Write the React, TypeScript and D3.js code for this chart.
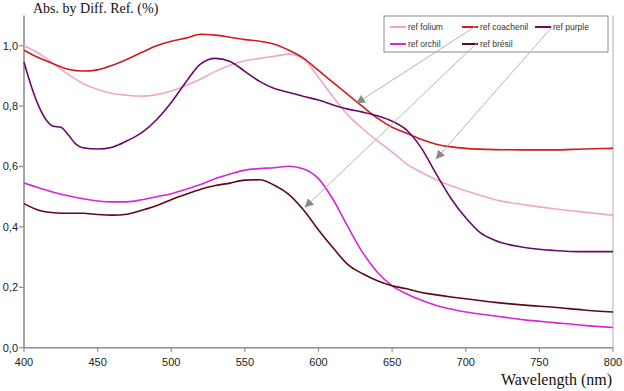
import React from 'react';
import * as d3 from 'd3';

// shared wavelength grid (nm)
const wavelengths = [400, 410, 420, 430, 440, 450, 460, 470, 480, 490, 500, 510, 520, 530, 540, 550, 560, 570, 580, 590, 600, 610, 620, 630, 640, 650, 660, 670, 680, 690, 700, 720, 740, 760, 780, 800];

const folium = [1.0, 0.975, 0.94, 0.905, 0.875, 0.855, 0.842, 0.836, 0.833, 0.838, 0.85, 0.868, 0.89, 0.915, 0.935, 0.95, 0.958, 0.965, 0.972, 0.955, 0.895, 0.83, 0.77, 0.725, 0.685, 0.648, 0.608, 0.58, 0.556, 0.536, 0.52, 0.49, 0.473, 0.46, 0.449, 0.439];
const coachenil = [0.985, 0.96, 0.94, 0.922, 0.916, 0.92, 0.935, 0.955, 0.978, 1.0, 1.015, 1.025, 1.038, 1.035, 1.028, 1.02, 1.015, 1.005, 0.985, 0.958, 0.918, 0.878, 0.838, 0.798, 0.76, 0.73, 0.71, 0.689, 0.674, 0.665, 0.66, 0.656, 0.655, 0.655, 0.658, 0.66];
const orchil = [0.545, 0.53, 0.515, 0.503, 0.493, 0.486, 0.483, 0.483, 0.49, 0.5, 0.51, 0.525, 0.54, 0.56, 0.575, 0.588, 0.593, 0.596, 0.601, 0.592, 0.56, 0.49, 0.4, 0.315, 0.25, 0.205, 0.178, 0.157, 0.14, 0.128, 0.118, 0.105, 0.092, 0.083, 0.074, 0.067];
const bresil = [0.477, 0.455, 0.447, 0.445, 0.445, 0.441, 0.439, 0.442, 0.455, 0.47, 0.49, 0.508, 0.525, 0.537, 0.545, 0.555, 0.556, 0.538, 0.507, 0.455, 0.39, 0.33, 0.275, 0.245, 0.222, 0.205, 0.195, 0.183, 0.175, 0.168, 0.162, 0.15, 0.141, 0.134, 0.125, 0.118];

// purple has a shoulder near 420 nm, so it gets a finer grid
const purpleWavelengths = [400, 405, 410, 415, 420, 425, 430, 435, 440, 450, 460, 470, 480, 490, 500, 510, 520, 530, 540, 550, 560, 570, 580, 590, 600, 610, 620, 630, 640, 650, 660, 670, 680, 690, 700, 710, 720, 740, 760, 780, 800];
const purple = [0.945, 0.865, 0.8, 0.755, 0.733, 0.73, 0.705, 0.675, 0.662, 0.658, 0.664, 0.685, 0.712, 0.755, 0.812, 0.88, 0.94, 0.958, 0.948, 0.915, 0.882, 0.858, 0.845, 0.832, 0.82, 0.804, 0.79, 0.78, 0.768, 0.75, 0.72, 0.66, 0.575, 0.494, 0.43, 0.38, 0.355, 0.332, 0.322, 0.318, 0.318];

const xTicks = [400, 450, 500, 550, 600, 650, 700, 750, 800];
const yTicks = [0, 0.2, 0.4, 0.6, 0.8, 1.0];

const series = [
  { name: 'ref folium', color: '#f0a6c8', xs: wavelengths, ys: folium },
  { name: 'ref coachenil', color: '#d01c1c', xs: wavelengths, ys: coachenil },
  { name: 'ref purple', color: '#680a68', xs: purpleWavelengths, ys: purple },
  { name: 'ref orchil', color: '#d626d6', xs: wavelengths, ys: orchil },
  { name: 'ref brésil', color: '#5e0a14', xs: wavelengths, ys: bresil },
];

// arrow annotations: legend entry -> point near the curve
const arrows = [
  { from: [476, 26], to: [626, 0.81] },
  { from: [477, 43], to: [591, 0.466] },
  { from: [552, 27], to: [680, 0.626] },
];

const W = 624, H = 391;
const x = d3.scaleLinear().domain([400, 800]).range([24, 613]);
const y = d3.scaleLinear().domain([0, 1.1]).range([347.7, 15.5]);

const fmt = (v: number) => v.toFixed(1).replace('.', ',');

export default function App() {
  const line = d3.line<[number, number]>()
    .x(d => x(d[0]))
    .y(d => y(d[1]))
    .curve(d3.curveMonotoneX);

  const axisColor = '#8f8f8f';
  const legendPos = [[390, 27], [462, 27], [535, 27], [390, 44], [462, 44]];

  return (
    <svg width={W} height={H} style={{ position: 'absolute', left: 0, top: 0, background: '#fff' }}
      fontFamily="'Liberation Sans', Arial, sans-serif">
      <defs>
        <marker id="ah" viewBox="0 0 10 10" refX="9" refY="5" markerWidth="9" markerHeight="9"
          markerUnits="userSpaceOnUse" orient="auto">
          <path d="M0,0 L10,5 L0,10 z" fill="#8a8a8a" />
        </marker>
      </defs>

      <text x={33} y={13} fontFamily="'Liberation Serif', serif" fontSize={14} fill="#111">Abs. by Diff. Ref. (%)</text>

      {/* axes */}
      <line x1={x(400)} x2={x(400)} y1={y(1.1)} y2={y(0)} stroke={axisColor} strokeWidth={1.6} />
      <line x1={x(800)} x2={x(800)} y1={y(1.1)} y2={y(0)} stroke="#b0b0b0" strokeWidth={1} />
      <line x1={x(400)} x2={x(800)} y1={y(0)} y2={y(0)} stroke={axisColor} strokeWidth={1.6} />
      {yTicks.map(t => (
        <g key={t}>
          <line x1={x(400) - 5} x2={x(400)} y1={y(t)} y2={y(t)} stroke={axisColor} strokeWidth={1.2} />
          <text x={x(400) - 6} y={y(t)} dy="0.35em" textAnchor="end" fontSize={11} fill="#222">{fmt(t)}</text>
        </g>
      ))}
      {xTicks.map(t => (
        <g key={t}>
          <line x1={x(t)} x2={x(t)} y1={y(0)} y2={y(0) + 4} stroke={axisColor} strokeWidth={1.2} />
          <text x={x(t)} y={y(0) + 18} textAnchor="middle" fontSize={11} fill="#222">{t}</text>
        </g>
      ))}
      <text x={612} y={385} textAnchor="end" fontFamily="'Liberation Serif', serif" fontSize={16} fill="#111">Wavelength (nm)</text>

      {/* curves */}
      {series.map(s => (
        <path key={s.name} d={line(s.xs.map((w, i) => [w, s.ys[i]] as [number, number])) || ''}
          fill="none" stroke={s.color} strokeWidth={1.6} />
      ))}

      {/* legend */}
      <rect x={384} y={16} width={224} height={36} fill="#fff" stroke="#8a8a8a" strokeWidth={1} />
      {series.map((s, i) => (
        <g key={s.name} transform={`translate(${legendPos[i][0]},${legendPos[i][1]})`}>
          <line x1={0} x2={16} y1={0} y2={0} stroke={s.color} strokeWidth={2} />
          <text x={18} y={0} dy="0.35em" fontSize={8.5} fill="#333">{s.name}</text>
        </g>
      ))}

      {/* arrows */}
      {arrows.map((a, i) => (
        <line key={i} x1={a.from[0]} y1={a.from[1]} x2={x(a.to[0])} y2={y(a.to[1])}
          stroke="#b4b4b4" strokeWidth={1} markerEnd="url(#ah)" />
      ))}
    </svg>
  );
}
